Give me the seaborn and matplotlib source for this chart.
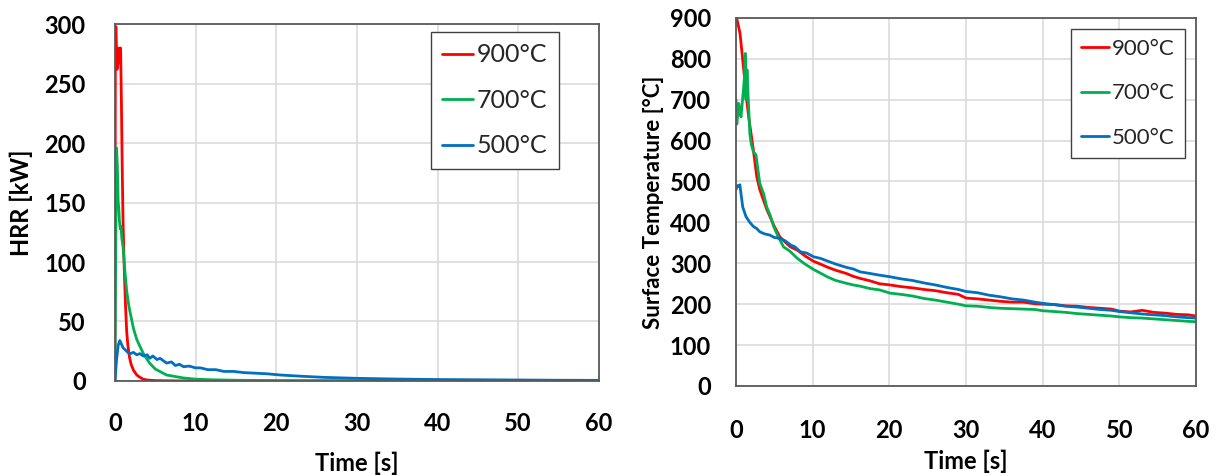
import matplotlib
matplotlib.use("Agg")
import matplotlib.pyplot as plt
import seaborn as sns

# HRR [kW] vs time [s]
hrr_t_900 = [0, 0.05, 0.12, 0.25, 0.4, 0.5, 0.6, 0.7, 0.8, 0.9, 1.0, 1.15, 1.3, 1.45, 1.6, 1.8,
             2.0, 2.3, 2.7, 3.1, 3.5, 4.0, 5.0, 7, 10, 20, 30, 40, 50, 60]
hrr_900 = [0, 290, 298, 262, 268, 280, 277, 280, 235, 180, 135, 95, 65, 42, 30, 20,
           14, 9, 5, 3, 1.5, 0.8, 0.3, 0.1, 0, 0, 0, 0, 0, 0]

hrr_t_700 = [0, 0.1, 0.2, 0.3, 0.4, 0.47, 0.55, 0.65, 0.75, 0.85, 1.0, 1.2, 1.45, 1.7, 1.9, 2.3,
             2.7, 3.1, 3.6, 4.3, 5.0, 6.4, 8.5, 10, 12, 15, 20, 30, 40, 50, 60]
hrr_700 = [0, 120, 196, 180, 150, 146, 135, 128, 130, 120, 113, 95, 76, 64, 57, 44,
           35, 29, 22, 15, 10, 5, 2.5, 1.5, 1.0, 0.6, 0.3, 0.1, 0, 0, 0]

hrr_t_500 = [0, 0.2, 0.4, 0.6, 0.8, 1.0, 1.3, 1.6, 1.9, 2.3, 2.7, 3.1, 3.5, 4.0, 4.3, 4.7, 5.2,
             5.6, 6.0, 6.4, 7.0, 7.5, 8.0, 8.5, 9.2, 10, 10.6, 11.5, 12.5, 13.5, 14.7, 16,
             17.5, 18.9, 20.5, 23, 26, 30, 35, 40, 45, 50, 55, 60]
hrr_500 = [0, 18, 30, 34, 31, 28, 26, 24, 23, 24, 22, 23, 21, 22, 19, 21, 18,
           19, 17, 15, 16, 13, 14, 12, 12.5, 11, 11, 9.5, 9.5, 8, 8, 7,
           6.5, 6, 5, 4, 3, 2.2, 1.6, 1.2, 1.0, 0.8, 0.6, 0.5]

# Surface temperature [°C] vs time [s]
late_t = [21.5, 23, 24.5, 26, 27.5, 29, 30, 31.5, 33, 34.5, 36, 37.5, 39, 40, 41.5, 43,
          44.5, 46, 47.5, 49, 50, 51.5, 53, 54.5, 56, 57.5, 59, 60]

temp_t_900 = [0, 0.2, 0.52, 0.75, 0.96, 1.2, 1.39, 1.6, 1.83, 2.26, 2.7, 3.1, 3.57, 4.0, 4.43,
              5.0, 5.7, 6.4, 7.1, 8, 9, 10.1, 11, 12, 13, 14.4, 15.3, 16.2, 17.5, 18.7,
              20.1] + late_t
temp_900 = [905, 890, 862, 820, 781, 735, 700, 665, 634, 577, 512, 480, 455, 432, 414,
            390, 365, 352, 340, 332, 318, 305, 298, 290, 283, 275, 268, 263, 257, 250,
            247, 243, 240, 236, 233, 228, 224, 215, 213, 210, 207, 205, 205, 201, 200, 199,
            196, 195, 192, 190, 188, 183, 181, 185, 180, 178, 175, 174, 171]

temp_t_700 = [0, 0.1, 0.2, 0.35, 0.5, 0.65, 0.8, 0.95, 1.1, 1.2, 1.3, 1.43, 1.6, 1.8, 2.0,
              2.26, 2.6, 3.1, 3.6, 4.0, 4.5, 4.9, 5.5, 6.2, 7.0, 8.0, 9.0, 10.1, 11, 12, 13,
              14.4, 15.3, 16.2, 17.5, 18.7, 20.1] + late_t
temp_700 = [700, 640, 660, 691, 670, 658, 690, 720, 756, 813, 700, 773, 700, 617, 590,
            573, 565, 495, 470, 438, 415, 390, 365, 340, 330, 312, 298, 285, 276, 266, 258,
            251, 247, 244, 238, 235, 227, 224, 220, 214, 210, 205, 200, 196, 195, 192, 190,
            189, 188, 187, 184, 182, 180, 177, 175, 173, 171, 169, 167, 166, 164, 162, 160,
            158, 157]

temp_t_500 = [0, 0.15, 0.35, 0.5, 0.65, 0.87, 1.1, 1.3, 1.8, 2.26, 2.7, 3.1, 3.7, 4.4, 5.0,
              5.7, 6.4, 7.1, 7.7, 8.4, 9.2, 10.1, 11, 12, 13, 14.4, 15.3, 16.2, 17.5, 18.7,
              20.1] + late_t
temp_500 = [480, 490, 488, 492, 470, 438, 425, 414, 400, 390, 385, 377, 372, 369, 363,
            361, 355, 345, 340, 328, 325, 316, 312, 305, 298, 290, 286, 279, 275, 271,
            267, 262, 258, 252, 247, 241, 236, 231, 228, 222, 218, 213, 210, 205, 202, 199,
            195, 193, 190, 187, 185, 182, 179, 176, 174, 172, 169, 167, 166]

labels = ["900°C", "700°C", "500°C"]
colors = ["#FF0000", "#00B050", "#0070C0"]

sns.set_theme(style="whitegrid")
plt.rcParams["font.family"] = ["Lato", "DejaVu Sans"]

fig = plt.figure(figsize=(12.19, 4.75), dpi=100)
ax1 = fig.add_axes([0.0943, 0.198, 0.397, 0.751])
ax2 = fig.add_axes([0.6038, 0.1874, 0.3773, 0.775])

hrr_sets = [(hrr_t_900, hrr_900), (hrr_t_700, hrr_700), (hrr_t_500, hrr_500)]
temp_sets = [(temp_t_900, temp_900), (temp_t_700, temp_700), (temp_t_500, temp_500)]

for (t, v), lab, c in zip(hrr_sets, labels, colors):
    sns.lineplot(x=t, y=v, ax=ax1, color=c, label=lab, linewidth=2.0, sort=False, estimator=None)
for (t, v), lab, c in zip(temp_sets, labels, colors):
    sns.lineplot(x=t, y=v, ax=ax2, color=c, label=lab, linewidth=2.0, sort=False, estimator=None)

ax1.set_xlim(0, 60)
ax1.set_ylim(0, 300)
ax1.set_yticks(range(0, 301, 50))
ax2.set_xlim(0, 60)
ax2.set_ylim(0, 900)
ax2.set_yticks(range(0, 901, 100))

for ax in (ax1, ax2):
    ax.set_xticks(range(0, 61, 10))
    ax.set_facecolor("white")
    ax.grid(True, color="#D9D9D9", linewidth=1.1)
    for s in ax.spines.values():
        s.set_visible(True)
        s.set_color("#595959")
        s.set_linewidth(1.3)
    ax.tick_params(axis="both", length=0, labelsize=17, colors="black")
    for lbl in ax.get_xticklabels() + ax.get_yticklabels():
        lbl.set_fontweight("bold")
    ax.set_xlabel("Time [s]", fontsize=17, fontweight="bold", color="black")

ax1.tick_params(axis="y", pad=21)
ax1.tick_params(axis="x", pad=22)
ax2.tick_params(axis="y", pad=18)
ax2.tick_params(axis="x", pad=24)
ax1.set_ylabel("HRR [kW]", fontsize=17, fontweight="bold", color="black", labelpad=8)
ax2.set_ylabel("Surface Temperature [°C]", fontsize=16, fontweight="bold", color="black", labelpad=4)
ax1.xaxis.labelpad = 12
ax2.xaxis.labelpad = 5

leg1 = ax1.legend(loc="upper right", bbox_to_anchor=(0.917, 0.978), fontsize=18,
                  frameon=True, fancybox=False, edgecolor="#404040", framealpha=1,
                  labelspacing=0.9, handlelength=1.25, handletextpad=0.15,
                  borderpad=0.45, borderaxespad=0)
leg2 = ax2.legend(loc="upper right", bbox_to_anchor=(0.976, 0.970), fontsize=16,
                  frameon=True, fancybox=False, edgecolor="#404040", framealpha=1,
                  labelspacing=1.1, handlelength=1.25, handletextpad=0.15,
                  borderpad=0.45, borderaxespad=0)
for leg in (leg1, leg2):
    leg.get_frame().set_linewidth(1.0)

fig.savefig("out.png", dpi=100)
